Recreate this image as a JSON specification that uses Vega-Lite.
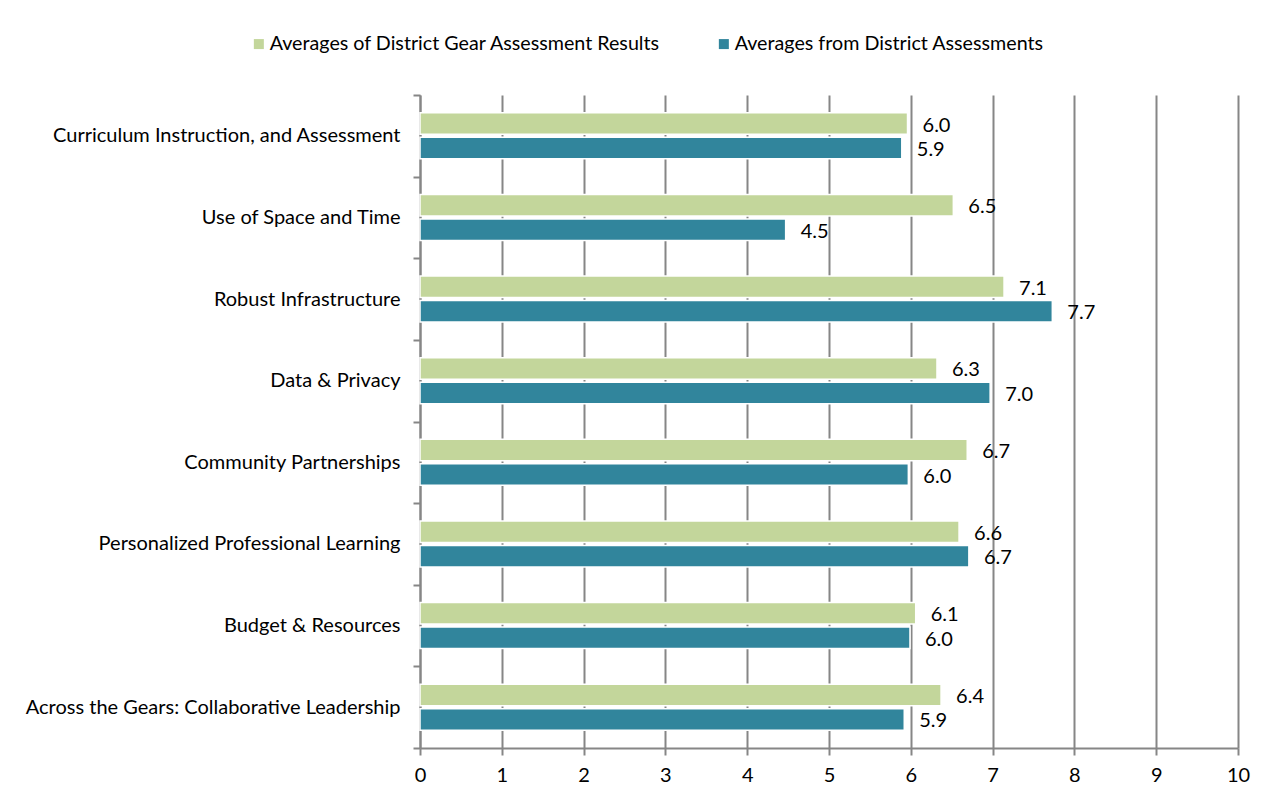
{
  "$schema": "https://vega.github.io/schema/vega-lite/v6.json",
  "width": 818,
  "height": 653,
  "autosize": {"type": "none"},
  "padding": {"left": 420, "top": 95, "right": 38, "bottom": 58},
  "background": "white",
  "config": {
    "view": {"stroke": null},
    "font": "Lato",
    "axis": {"labelFont": "Lato", "labelColor": "#000000", "labelFontSize": 20},
    "legend": {"labelFont": "Lato", "labelColor": "#000000", "labelFontSize": 19.7}
  },
  "data": {
    "values": [
      {"category": "Curriculum Instruction, and Assessment", "series": "Averages of District Gear Assessment Results", "value": 5.96},
      {"category": "Curriculum Instruction, and Assessment", "series": "Averages from District Assessments", "value": 5.89},
      {"category": "Use of Space and Time", "series": "Averages of District Gear Assessment Results", "value": 6.52},
      {"category": "Use of Space and Time", "series": "Averages from District Assessments", "value": 4.47},
      {"category": "Robust Infrastructure ", "series": "Averages of District Gear Assessment Results", "value": 7.14},
      {"category": "Robust Infrastructure ", "series": "Averages from District Assessments", "value": 7.73},
      {"category": "Data & Privacy", "series": "Averages of District Gear Assessment Results", "value": 6.32},
      {"category": "Data & Privacy", "series": "Averages from District Assessments", "value": 6.97},
      {"category": "Community Partnerships", "series": "Averages of District Gear Assessment Results", "value": 6.69},
      {"category": "Community Partnerships", "series": "Averages from District Assessments", "value": 5.97},
      {"category": "Personalized Professional Learning", "series": "Averages of District Gear Assessment Results", "value": 6.59},
      {"category": "Personalized Professional Learning", "series": "Averages from District Assessments", "value": 6.71},
      {"category": "Budget & Resources", "series": "Averages of District Gear Assessment Results", "value": 6.06},
      {"category": "Budget & Resources", "series": "Averages from District Assessments", "value": 5.99},
      {"category": "Across the Gears: Collaborative Leadership ", "series": "Averages of District Gear Assessment Results", "value": 6.37},
      {"category": "Across the Gears: Collaborative Leadership ", "series": "Averages from District Assessments", "value": 5.92}
    ]
  },
  "encoding": {
    "y": {
      "field": "category",
      "type": "nominal",
      "sort": null,
      "scale": {"paddingInner": 0, "paddingOuter": 0},
      "axis": {
        "title": null,
        "tickBand": "extent",
        "domainColor": "#868686",
        "domainWidth": 2,
        "tickColor": "#868686",
        "tickWidth": 2,
        "tickSize": 7,
        "labelPadding": 13,
        "labelLimit": 500
      }
    },
    "yOffset": {
      "field": "series",
      "type": "nominal",
      "sort": ["Averages of District Gear Assessment Results", "Averages from District Assessments"],
      "scale": {"paddingInner": 0.12, "paddingOuter": 0.73}
    },
    "x": {
      "field": "value",
      "type": "quantitative",
      "scale": {"domain": [0, 10], "nice": false},
      "axis": {
        "title": null,
        "values": [0, 1, 2, 3, 4, 5, 6, 7, 8, 9, 10],
        "format": "d",
        "labelFlush": false,
        "grid": true,
        "gridColor": "#868686",
        "gridWidth": 2,
        "domainColor": "#868686",
        "domainWidth": 2,
        "tickColor": "#868686",
        "tickWidth": 2,
        "tickSize": 7,
        "labelPadding": 10
      }
    }
  },
  "layer": [
    {
      "mark": {"type": "bar", "stroke": "white", "strokeWidth": 1.5},
      "encoding": {
        "color": {
          "field": "series",
          "type": "nominal",
          "scale": {
            "domain": ["Averages of District Gear Assessment Results", "Averages from District Assessments"],
            "range": ["#C3D69B", "#31859C"]
          },
          "legend": {
            "title": null,
            "orient": "none",
            "legendX": -171,
            "legendY": -61,
            "direction": "horizontal",
            "symbolType": "square",
            "symbolSize": 100,
            "symbolStrokeWidth": 0,
            "columnPadding": 53,
            "labelOffset": 1,
            "labelLimit": 600
          }
        }
      }
    },
    {
      "mark": {"type": "text", "align": "left", "baseline": "middle", "dx": 15, "dy": 2, "fontSize": 20, "color": "#000000"},
      "encoding": {
        "text": {"field": "value", "type": "quantitative", "format": ".1f"}
      }
    }
  ]
}
